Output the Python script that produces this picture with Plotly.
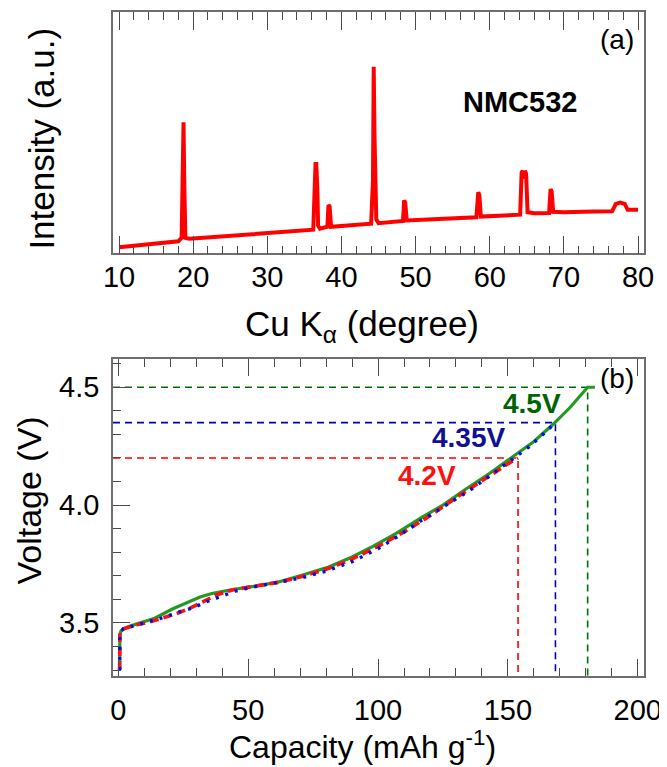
import plotly.graph_objects as go

# ---------------- data: (a) XRD pattern ----------------
xrd_2theta = [10.0, 12.0, 14.0, 16.0, 18.0, 18.45, 18.6, 18.7, 18.8, 18.95, 19.5, 22.0, 26.0, 30.0, 34.0, 36.2,
              36.5, 36.6, 36.75, 36.85, 37.1, 37.6, 38.1, 38.25, 38.4, 38.6, 40.0, 42.0, 44.0, 44.25,
              44.35, 44.45, 44.55, 44.7, 45.0, 47.0, 48.3, 48.45, 48.6, 48.8, 52.0, 56.0, 58.2, 58.45,
              58.6, 58.8, 62.0, 64.1, 64.3, 64.45, 64.6, 64.75, 64.9, 65.1, 66.0, 68.0, 68.2, 68.35,
              68.55, 70.0, 74.0, 76.5, 77.0, 77.6, 78.2, 78.6, 79.0, 80.0]
xrd_intensity = [2.5, 3.1, 3.8, 4.4, 5.0, 6.5, 36.0, 54.3, 30.0, 6.4, 6.0, 6.6, 7.5, 8.2, 9.2, 9.8,
                 37.0, 37.0, 27.0, 11.5, 10.2, 10.4, 11.0, 20.0, 19.5, 11.0, 11.4, 11.9, 12.3, 30.0,
                 77.3, 50.0, 30.0, 14.0, 12.5, 13.0, 13.4, 21.9, 21.0, 13.6, 14.0, 14.6, 14.9, 25.3,
                 24.0, 15.2, 15.6, 16.0, 33.5, 34.2, 31.0, 34.2, 33.0, 17.0, 16.6, 16.7, 26.6, 25.5,
                 17.2, 17.0, 17.3, 17.4, 20.5, 21.0, 20.5, 18.0, 18.0, 18.0]

# ---------------- data: (b) first-charge curves ----------------
cap_45 = [0.5, 0.5, 0.6, 1.0, 2.0, 4, 8, 14, 21, 27, 31.5, 36, 43, 52, 62, 70, 81, 90, 98, 107,
          117, 125, 133, 143, 152.5, 160, 167.6, 174, 180.7, 183.5]
volt_45 = [3.30, 3.40, 3.45, 3.465, 3.475, 3.485, 3.50, 3.52, 3.56, 3.59, 3.61, 3.625, 3.64, 3.655,
           3.675, 3.70, 3.737, 3.78, 3.825, 3.88, 3.949, 4.0, 4.062, 4.135, 4.211, 4.27, 4.345,
           4.415, 4.5, 4.5]

cap_435 = [0.5, 0.5, 0.6, 1.0, 2.0, 5, 10, 17.3, 23, 28.9, 34, 39.2, 45, 50.7, 60, 70, 80, 90,
           100, 108, 116.7, 125, 135, 145, 152, 158, 164, 168.3]
volt_435 = [3.30, 3.40, 3.45, 3.465, 3.475, 3.485, 3.50, 3.523, 3.545, 3.565, 3.59, 3.613, 3.635,
            3.65, 3.668, 3.69, 3.72, 3.76, 3.815, 3.87, 3.935, 3.99, 4.06, 4.14, 4.195, 4.246,
            4.305, 4.35]

cap_42 = [0.5, 0.5, 0.6, 1.0, 2.0, 4, 8, 12, 17, 22.5, 28, 32.7, 38, 44.3, 52, 62, 70, 80, 89,
          100, 110, 120, 130.4, 138, 144.2, 150, 153.9]
volt_42 = [3.30, 3.40, 3.45, 3.465, 3.475, 3.482, 3.495, 3.504, 3.52, 3.54, 3.565, 3.59, 3.62,
           3.641, 3.655, 3.673, 3.695, 3.728, 3.766, 3.825, 3.886, 3.955, 4.034, 4.09, 4.133,
           4.175, 4.2]

cutoff_labels = ["4.5V", "4.35V", "4.2V"]
cutoff_voltage = [4.5, 4.35, 4.2]
cutoff_capacity = [180.7, 168.3, 153.9]

FONT = "Arial, Liberation Sans, sans-serif"
LINE_C = "#6e6e6e"
TICK_C = "#4a4a4a"

fig = go.Figure()

fig.add_trace(go.Scatter(x=xrd_2theta, y=xrd_intensity, mode="lines",
                         line=dict(color="#ff0000", width=4), xaxis="x", yaxis="y",
                         showlegend=False, hoverinfo="skip"))

# reference dashed lines (b)
ref_colors = ["#007000", "#0000b4", "#ff0000"]
x_left = -2.05
y_bottom = 3.275
for lab, v, c, col in zip(cutoff_labels, cutoff_voltage, cutoff_capacity, ref_colors):
    fig.add_trace(go.Scatter(x=[x_left, c, c], y=[v, v, y_bottom], mode="lines",
                             line=dict(color=col, width=1.6, dash="7px,5px"),
                             xaxis="x2", yaxis="y2", showlegend=False, hoverinfo="skip"))

fig.add_trace(go.Scatter(x=cap_45, y=volt_45, mode="lines",
                         line=dict(color="#229a22", width=3.2), xaxis="x2", yaxis="y2",
                         showlegend=False))
fig.add_trace(go.Scatter(x=cap_42, y=volt_42, mode="lines",
                         line=dict(color="#ff1010", width=3.6, dash="9px,5px"), xaxis="x2", yaxis="y2",
                         showlegend=False))
fig.add_trace(go.Scatter(x=cap_435, y=volt_435, mode="lines",
                         line=dict(color="#0010e0", width=3.4, dash="3px,7px"), xaxis="x2", yaxis="y2",
                         showlegend=False))

axis_common = dict(showline=True, linecolor=LINE_C, linewidth=1.5, showgrid=False, zeroline=False,
                   tickfont=dict(family=FONT, size=29, color="black"), tickcolor=TICK_C,
                   tickwidth=1.3)

# page body has an 8px default margin, so the figure is 8px smaller than the window on each side
fig.update_layout(
    width=659, height=759,
    margin=dict(l=105, r=23, t=2, b=91),
    paper_bgcolor="white", plot_bgcolor="white",
    xaxis=dict(domain=[0, 1], anchor="y", range=[9.19, 80.8], dtick=10, tick0=10,
               ticks="inside", ticklen=18, mirror="ticks", ticklabelstandoff=-3,
               minor=dict(dtick=2, ticks="inside", ticklen=8, tickcolor=TICK_C, tickwidth=1.2),
               **axis_common),
    yaxis=dict(domain=[0.6366, 1], anchor="x", range=[0, 100], showticklabels=False,
               ticks="", mirror=True, **axis_common),
    xaxis2=dict(domain=[0, 1], anchor="y2", range=[-2.05, 202.4], dtick=50, tick0=0,
                ticks="inside", ticklen=17, mirror="ticks", ticklabelstandoff=7,
                minor=dict(dtick=10, ticks="inside", ticklen=8, tickcolor=TICK_C, tickwidth=1.2),
                **axis_common),
    yaxis2=dict(domain=[0, 0.4775], anchor="x2", range=[3.275, 4.62], dtick=0.5, tick0=3.5,
                tickformat=".1f", ticks="inside", ticklen=17, mirror=True, ticklabelstandoff=6,
                minor=dict(dtick=0.1, ticks="inside", ticklen=8, tickcolor=TICK_C, tickwidth=1.2),
                **axis_common),
)

def px_to_paper(px, py):
    # px, py given in window pixels; plot area spans x 113..644, y 10..676
    return (px - 113) / 531.0, (676 - py) / 666.0

annos = []
# axis titles
for text, px, py, ang, fs in [("Intensity (a.u.)", 42, 137, -90, 35),
                              ("Voltage (V)", 29, 500, -90, 34),
                              ("Cu K<sub>α</sub> (degree)", 362, 325, 0, 35),
                              ("Capacity (mAh g<sup>-1</sup>)", 362, 745, 0, 32)]:
    x, y = px_to_paper(px, py)
    annos.append(dict(text=text, x=x, y=y, xref="paper", yref="paper", showarrow=False,
                      textangle=ang, xanchor="center", yanchor="middle",
                      font=dict(family=FONT, size=fs, color="black")))

annos.append(dict(text="<b>NMC532</b>", x=64.1, y=62.8, xref="x", yref="y", showarrow=False,
                  font=dict(family=FONT, size=29, color="black")))
annos.append(dict(text="(a)", x=77.2, y=88.4, xref="x", yref="y", showarrow=False,
                  font=dict(family=FONT, size=28, color="black")))
annos.append(dict(text="(b)", x=192, y=4.537, xref="x2", yref="y2", showarrow=False,
                  font=dict(family=FONT, size=28, color="black")))

label_pos = [(159.3, 4.431, "#006400"), (134.7, 4.287, "#101090"), (118.9, 4.126, "#ff1010")]
for lab, (lx, ly, col) in zip(cutoff_labels, label_pos):
    annos.append(dict(text="<b>" + lab + "</b>", x=lx, y=ly, xref="x2", yref="y2", showarrow=False,
                      font=dict(family=FONT, size=28, color=col)))

fig.update_layout(annotations=annos)

fig.write_html("out.html")
